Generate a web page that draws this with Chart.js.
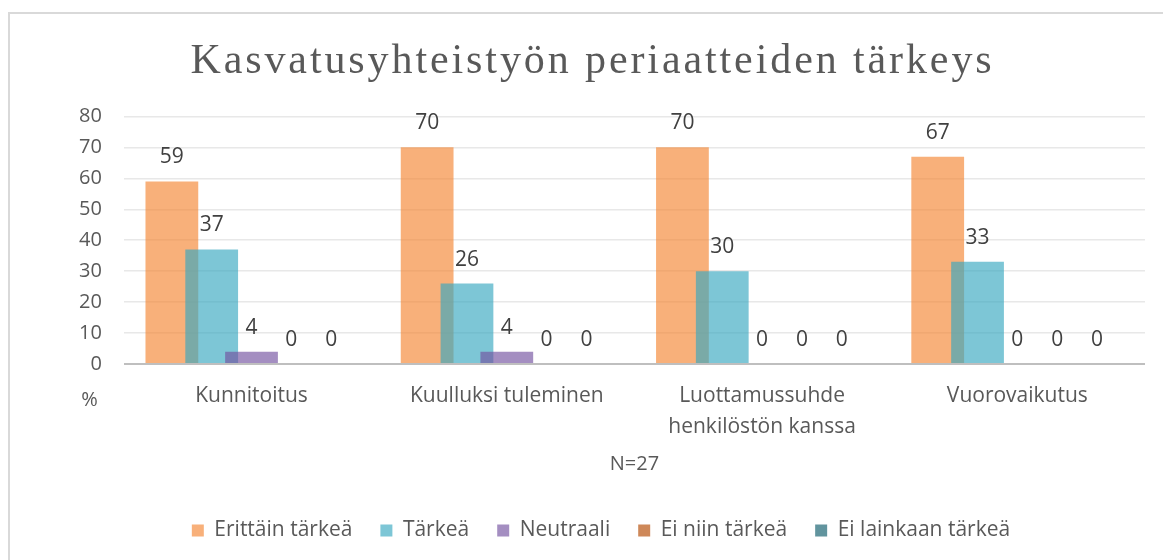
<!DOCTYPE html>
<html>
<head>
<meta charset="utf-8">
<script src="https://cdn.jsdelivr.net/npm/chart.js@4/dist/chart.umd.min.js"></script>
<style>
  body { margin: 0; background: #fff; overflow: hidden; }
  #frame { position: absolute; left: 8px; top: 12px; width: 1170px; height: 560px; border: 2px solid #D9D9D9; box-sizing: border-box; }
  #chart { position: absolute; left: 0; top: 0; }
</style>
</head>
<body>
<div id="frame"></div>
<canvas id="chart" width="1163" height="560"></canvas>
<script>
// data
const categories = ['Kunnitoitus', 'Kuulluksi tuleminen', ['Luottamussuhde', 'henkilöstön kanssa'], 'Vuorovaikutus'];
const seriesNames = ['Erittäin tärkeä', 'Tärkeä', 'Neutraali', 'Ei niin tärkeä', 'Ei lainkaan tärkeä'];
const erittain = [59, 70, 70, 67];
const tarkea = [37, 26, 30, 33];
const neutraali = [4, 4, 0, 0];
const eiNiin = [0, 0, 0, 0];
const eiLainkaan = [0, 0, 0, 0];
const yTicks = [0, 10, 20, 30, 40, 50, 60, 70, 80];

const colors = [
    'rgba(244,133,50,0.65)',
    'rgba(55,167,192,0.65)',
    'rgba(115,81,160,0.65)',
    'rgba(180,72,0,0.65)',
    'rgba(13,90,106,0.65)',
];
const values = [erittain, tarkea, neutraali, eiNiin, eiLainkaan];

const font = "'Open Sans', sans-serif";
const titleText = 'Kasvatusyhteistyön periaatteiden tärkeys';

// draw datasets first-to-last so later bars sit over earlier ones, then the value labels
const overlapBars = {
    id: 'overlapBars',
    beforeDatasetsDraw(chart) {
        const ctx = chart.ctx;
        chart.data.datasets.forEach((ds, i) => {
            chart.getDatasetMeta(i).controller.draw();
        });
        ctx.save();
        ctx.font = '21px ' + font;
        ctx.fillStyle = '#404040';
        ctx.textAlign = 'center';
        ctx.textBaseline = 'middle';
        chart.data.datasets.forEach((ds, i) => {
            chart.getDatasetMeta(i).data.forEach((bar, j) => {
                ctx.fillText(String(ds.data[j]), bar.x, bar.y - 24);
            });
        });
        // unit under the y axis
        const y = chart.scales.y;
        ctx.font = '20px ' + font;
        ctx.fillStyle = '#595959';
        ctx.textAlign = 'right';
        ctx.fillText('%', chart.chartArea.left - 26, y.getPixelForValue(0) + 36);
        ctx.restore();
        return false;
    }
};

// spaced-out title (the built-in title only reserves the room)
const spacedTitle = {
    id: 'spacedTitle',
    afterDraw(chart) {
        const ctx = chart.ctx;
        const tb = chart.titleBlock;
        ctx.save();
        ctx.font = "42px 'Liberation Serif', serif";
        ctx.letterSpacing = '2.9px';
        ctx.fillStyle = '#595959';
        ctx.textAlign = 'center';
        ctx.textBaseline = 'alphabetic';
        ctx.fillText(titleText, chart.width / 2 + 11, tb.top + 73);
        ctx.restore();
    }
};

new Chart(document.getElementById('chart'), {
    type: 'bar',
    data: {
        labels: categories,
        datasets: seriesNames.map((name, i) => ({
            label: name,
            data: values[i],
            backgroundColor: colors[i],
            borderWidth: 0,
            categoryPercentage: 0.78,
            barPercentage: 1.325,
        })),
    },
    options: {
        responsive: false,
        animation: false,
        events: [],
        layout: { padding: { left: 57, right: 18, top: 0, bottom: 9 } },
        plugins: {
            title: {
                display: true,
                text: titleText,
                color: 'rgba(0,0,0,0)',
                font: { family: "'Liberation Serif', serif", size: 42, weight: 'normal' },
                padding: { top: 30, bottom: 36 },
            },
            legend: {
                position: 'bottom',
                labels: {
                    color: '#595959',
                    font: { family: font, size: 21 },
                    boxWidth: 12,
                    boxHeight: 12,
                    padding: 28,
                },
            },
            tooltip: { enabled: false },
        },
        scales: {
            x: {
                grid: { display: false },
                border: { display: false },
                ticks: {
                    color: '#595959',
                    font: { family: font, size: 21, lineHeight: 1.476 },
                    padding: 9,
                    maxRotation: 0,
                },
                title: {
                    display: true,
                    text: 'N=27',
                    color: '#595959',
                    font: { family: font, size: 20 },
                    padding: { top: 0, bottom: 16 },
                },
            },
            y: {
                min: 0,
                max: 80,
                afterBuildTicks(scale) {
                    scale.ticks = yTicks.map(v => ({ value: v }));
                },
                border: { display: false },
                grid: {
                    drawTicks: false,
                    color: ctx => ctx.tick.value === 0 ? '#BFBFBF' : '#E8E8E8',
                    lineWidth: ctx => ctx.tick.value === 0 ? 2 : 1.5,
                },
                ticks: {
                    color: '#595959',
                    font: { family: font, size: 20 },
                    padding: 22,
                },
            },
        },
    },
    plugins: [overlapBars, spacedTitle],
});
</script>
</body>
</html>
